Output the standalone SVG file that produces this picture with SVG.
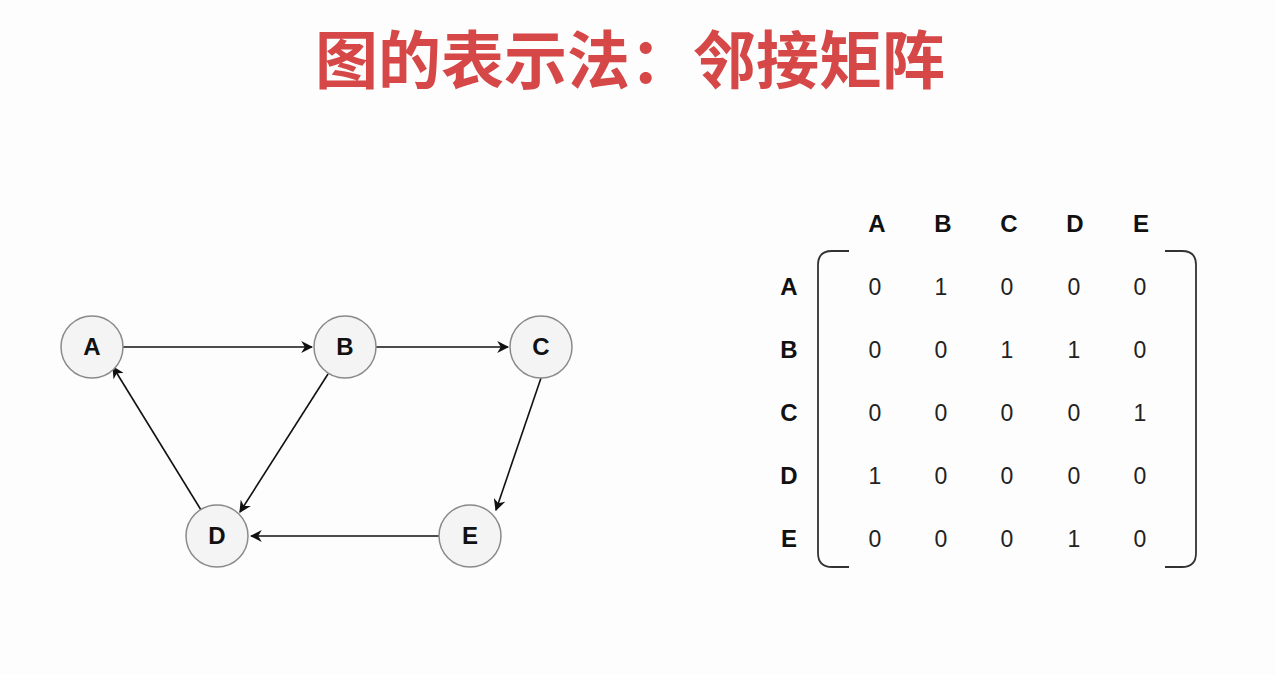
<svg xmlns="http://www.w3.org/2000/svg" width="1275" height="675" viewBox="0 0 1275 675">
<style>
.n circle{fill:#f4f4f4;stroke:#8a8a8a;stroke-width:1.5}
.lbl{font-family:"Liberation Sans",Arial,sans-serif;font-weight:bold;font-size:24px;text-anchor:middle;fill:#111}
.num{font-family:"Liberation Sans",Arial,sans-serif;font-size:23px;text-anchor:middle;fill:#222}
.e line{stroke:#111;stroke-width:1.6;marker-end:url(#ah)}
.br{fill:none;stroke:#333;stroke-width:1.8}
</style>
<defs><marker id="ah" viewBox="0 0 10 10" refX="9" refY="5" markerWidth="12" markerHeight="12" markerUnits="userSpaceOnUse" orient="auto"><path d="M0,0 L10,5 L0,10 L3,5 Z" fill="#111"/></marker></defs>
<rect width="1275" height="675" fill="#fdfdfd"/>
<text x="630" y="83" font-family="'Noto Sans CJK SC',sans-serif" font-weight="bold" font-size="63" text-anchor="middle" fill="#d64848">图的表示法：邻接矩阵</text>
<g class="e" id="edges">
<line x1="123" y1="347" x2="312" y2="347"/>
<line x1="376" y1="347" x2="508" y2="347"/>
<line x1="328" y1="374" x2="240" y2="512"/>
<line x1="541" y1="378" x2="496" y2="510"/>
<line x1="439" y1="536" x2="251" y2="536"/>
<line x1="201" y1="510" x2="113" y2="367"/>
</g>
<g class="n" id="nA"><circle cx="92" cy="347" r="31"/><text class="lbl" x="92" y="355">A</text></g>
<g class="n" id="nB"><circle cx="345" cy="347" r="31"/><text class="lbl" x="345" y="355">B</text></g>
<g class="n" id="nC"><circle cx="541" cy="347" r="31"/><text class="lbl" x="541" y="355">C</text></g>
<g class="n" id="nD"><circle cx="217" cy="536" r="31"/><text class="lbl" x="217" y="544">D</text></g>
<g class="n" id="nE"><circle cx="470" cy="536" r="31"/><text class="lbl" x="470" y="544">E</text></g>
<g id="matrix">
<path class="br" d="M849,251 H832 Q818,251 818,265 V553 Q818,567 832,567 H849"/>
<path class="br" d="M1165,251 H1182 Q1196,251 1196,265 V553 Q1196,567 1182,567 H1165"/>
<text class="lbl" x="877" y="232">A</text><text class="lbl" x="943" y="232">B</text><text class="lbl" x="1009" y="232">C</text><text class="lbl" x="1075" y="232">D</text><text class="lbl" x="1141" y="232">E</text>
<text class="lbl" x="789" y="295">A</text><text class="lbl" x="789" y="358">B</text><text class="lbl" x="789" y="421">C</text><text class="lbl" x="789" y="484">D</text><text class="lbl" x="789" y="547">E</text>
<text class="num" x="875" y="295">0</text><text class="num" x="941" y="295">1</text><text class="num" x="1007" y="295">0</text><text class="num" x="1074" y="295">0</text><text class="num" x="1140" y="295">0</text>
<text class="num" x="875" y="358">0</text><text class="num" x="941" y="358">0</text><text class="num" x="1007" y="358">1</text><text class="num" x="1074" y="358">1</text><text class="num" x="1140" y="358">0</text>
<text class="num" x="875" y="421">0</text><text class="num" x="941" y="421">0</text><text class="num" x="1007" y="421">0</text><text class="num" x="1074" y="421">0</text><text class="num" x="1140" y="421">1</text>
<text class="num" x="875" y="484">1</text><text class="num" x="941" y="484">0</text><text class="num" x="1007" y="484">0</text><text class="num" x="1074" y="484">0</text><text class="num" x="1140" y="484">0</text>
<text class="num" x="875" y="547">0</text><text class="num" x="941" y="547">0</text><text class="num" x="1007" y="547">0</text><text class="num" x="1074" y="547">1</text><text class="num" x="1140" y="547">0</text>
</g>
</svg>
